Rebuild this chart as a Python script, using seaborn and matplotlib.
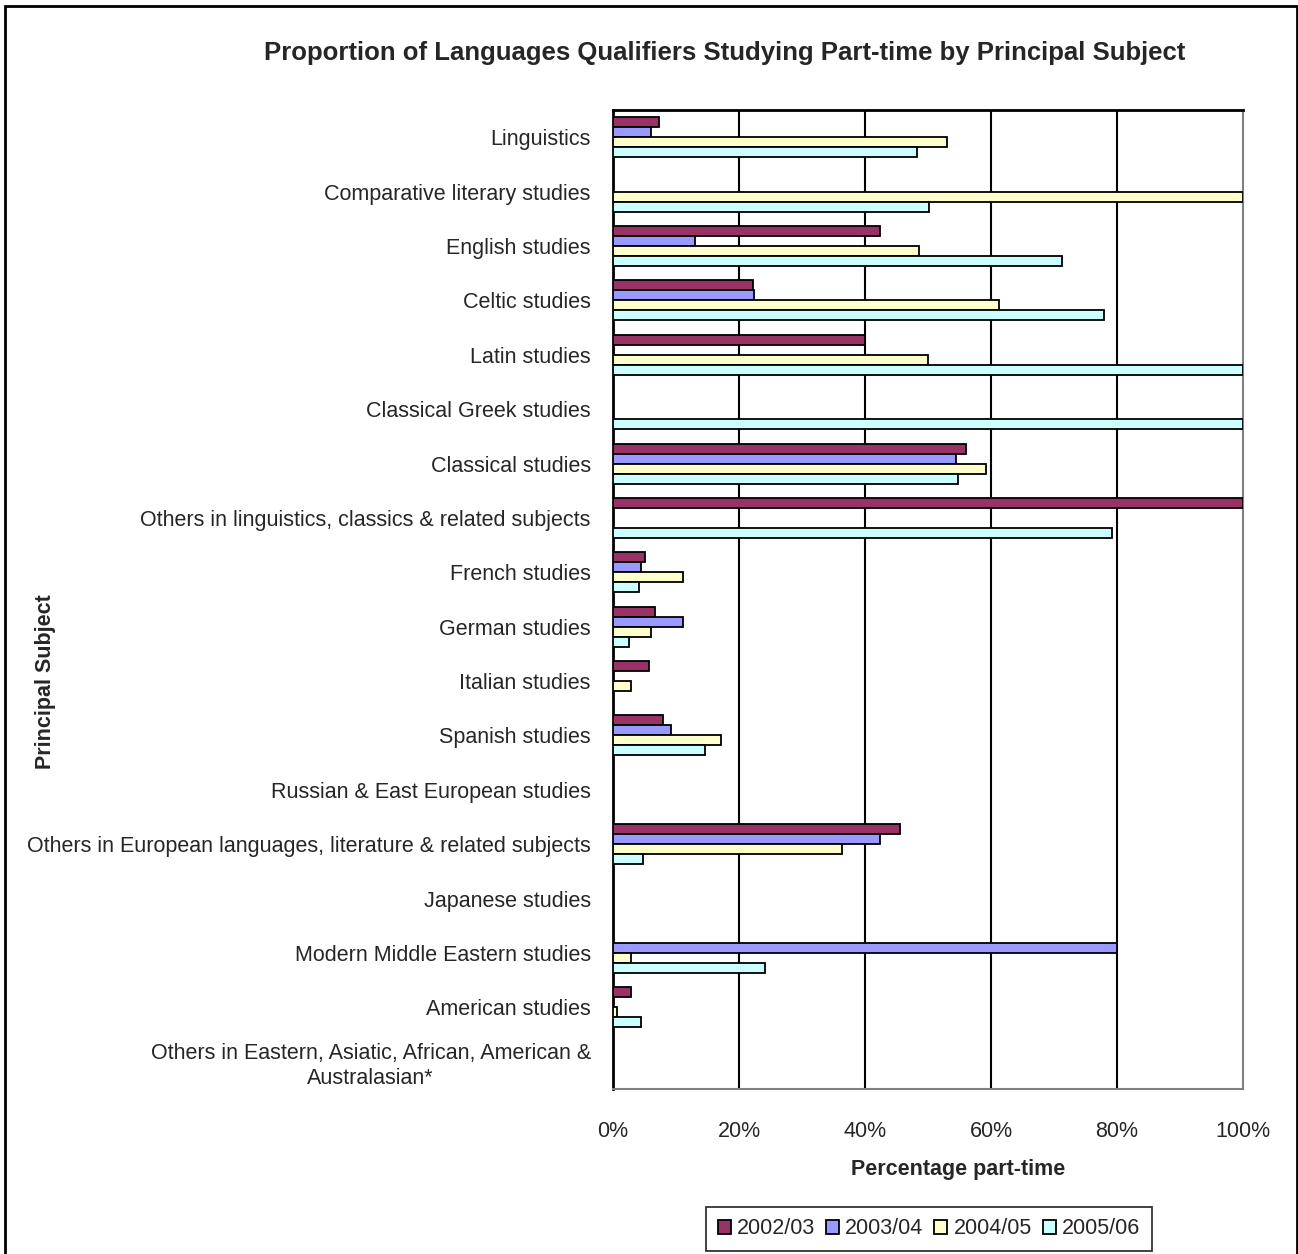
import numpy as np
import pandas as pd
import seaborn as sns
from matplotlib import pyplot as plt
from matplotlib.patches import Patch, Rectangle
from matplotlib.ticker import FuncFormatter

nan = np.nan
subjects = [
    'Linguistics',
    'Comparative literary studies',
    'English studies',
    'Celtic studies',
    'Latin studies',
    'Classical Greek studies',
    'Classical studies',
    'Others in linguistics, classics & related subjects',
    'French studies',
    'German studies',
    'Italian studies',
    'Spanish studies',
    'Russian & East European studies',
    'Others in European languages, literature & related subjects',
    'Japanese studies',
    'Modern Middle Eastern studies',
    'American studies',
    'Others in Eastern, Asiatic, African, American &\nAustralasian*',
]
years = ['2002/03', '2003/04', '2004/05', '2005/06']
pt_0203 = [7.3, nan, 42.4, 22.2, 40.0, nan, 56.1, 100, 5.0, 6.6, 5.7, 7.9, nan, 45.5, nan, nan, 2.8, nan]
pt_0304 = [6.0, nan, 13.0, 22.4, nan, nan, 54.4, nan, 4.4, 11.1, nan, 9.2, nan, 42.4, nan, 80.0, nan, nan]
pt_0405 = [53.0, 100, 48.5, 61.2, 50.0, nan, 59.2, nan, 11.1, 6.0, 2.8, 17.1, nan, 36.4, nan, 2.8, 0.6, nan]
pt_0506 = [48.2, 50.2, 71.3, 78.0, 100, 100, 54.8, 79.2, 4.1, 2.5, nan, 14.6, nan, 4.7, nan, 24.1, 4.4, nan]
colors = ['#993366', '#9999FF', '#FFFFCC', '#CCFFFF']

df = pd.DataFrame({'Subject': subjects, '2002/03': pt_0203, '2003/04': pt_0304,
                   '2004/05': pt_0405, '2005/06': pt_0506})
df = df.melt(id_vars='Subject', var_name='Year', value_name='Pct').dropna()

sns.set_style('white')
plt.rcParams['font.family'] = ['Liberation Sans', 'DejaVu Sans']
fs = 15.5

W, H = 1298, 1254
fig = plt.figure(figsize=(W / 100, H / 100), dpi=100)
ax = fig.add_axes([613 / W, 1 - 1089 / H, 630 / W, 979 / H])

sns.barplot(data=df, y='Subject', x='Pct', hue='Year', order=subjects, hue_order=years,
            palette=colors, orient='h', width=0.735, saturation=1, errorbar=None,
            edgecolor='black', linewidth=1.3, legend=False, ax=ax, zorder=3)

for v in [20, 40, 60, 80]:
    ax.axvline(v, color='black', lw=1.5, zorder=1)

ax.set_xlim(0, 100)
ax.set_ylim(len(subjects) - 0.5, -0.5)
ax.set_xticks([0, 20, 40, 60, 80, 100])
ax.xaxis.set_major_formatter(FuncFormatter(lambda v, p: f'{v:.0f}%'))
ax.tick_params(axis='x', length=0, pad=23, labelsize=fs)
ax.tick_params(axis='y', which='major', length=0, pad=16, labelsize=fs)
ax.set_yticks(np.arange(-0.5, len(subjects), 1), minor=True)
ax.tick_params(axis='y', which='minor', length=6, width=1.5, direction='out', color='black')
for lab in ax.get_yticklabels():
    lab.set_multialignment('center')
ax.set_xlabel('')
ax.set_ylabel('')

ax.spines['left'].set_color('black')
ax.spines['left'].set_linewidth(2)
ax.spines['top'].set_color('black')
ax.spines['top'].set_linewidth(2)
ax.spines['right'].set_color('#808080')
ax.spines['right'].set_linewidth(1.5)
ax.spines['bottom'].set_color('#808080')
ax.spines['bottom'].set_linewidth(1.5)

fig.text(725 / W, 1 - 53 / H, 'Proportion of Languages Qualifiers Studying Part-time by Principal Subject',
         ha='center', va='center', fontsize=18.5, fontweight='bold')
fig.text(958 / W, 1 - 1169 / H, 'Percentage part-time', ha='center', va='center',
         fontsize=fs, fontweight='bold')
fig.text(46 / W, 1 - 682 / H, 'Principal Subject', ha='center', va='center', rotation=90,
         fontsize=fs, fontweight='bold')

handles = [Patch(facecolor=c, edgecolor='black', linewidth=1.3) for c in colors]
leg = fig.legend(handles, years, loc='center', bbox_to_anchor=(929 / W, 1 - 1229 / H),
                 ncol=4, fontsize=fs, handlelength=0.6, handleheight=0.6, handletextpad=0.3,
                 columnspacing=0.5, frameon=True, fancybox=False, borderpad=0.55)
leg.get_frame().set_edgecolor('black')
leg.get_frame().set_linewidth(1.3)

fig.add_artist(Rectangle((5 / W, -0.01), 1292 / W, 1 - 6 / H + 0.01, transform=fig.transFigure,
                         fill=False, edgecolor='black', linewidth=2))

plt.savefig('out.png', dpi=100)
